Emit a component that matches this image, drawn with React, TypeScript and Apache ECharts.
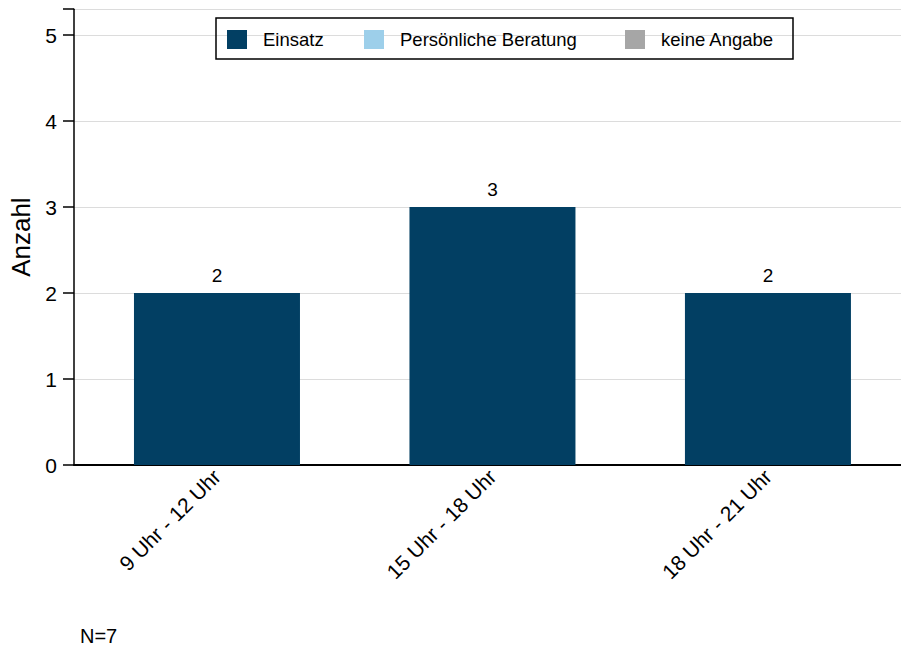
import React, { useEffect, useRef } from "react";
import * as echarts from "echarts";

const categories = ["9 Uhr - 12 Uhr", "15 Uhr - 18 Uhr", "18 Uhr - 21 Uhr"];
const einsatz = [2, 3, 2];
const beratung = [0, 0, 0];
const keineAngabe = [0, 0, 0];
const seriesNames = ["Einsatz", "Persönliche Beratung", "keine Angabe"];
const seriesColors = ["#023f63", "#9dcfea", "#a6a6a6"];
const yTicks = [0, 1, 2, 3, 4, 5];
const footnote = "N=7";

const FONT = "Liberation Sans, Arial, sans-serif";

export default function App() {
  const ref = useRef<HTMLDivElement>(null);
  useEffect(() => {
    if (!ref.current) return;
    const chart = echarts.init(ref.current, null, { renderer: "svg" });
    const legendLefts = [227, 364, 625];
    const catIdx = categories.map((_, i) => i);
    const toPairs = (arr: number[]) => arr.map((v, i) => [i, v]);
    const option: any = {
      animation: false,
      backgroundColor: "#ffffff",
      textStyle: { fontFamily: FONT, color: "#000" },
      grid: { left: 74, top: 9.2, right: 0, height: 455.8, containLabel: false },
      legend: seriesNames.map((n, i) => ({
        data: [n],
        left: legendLefts[i],
        top: 30,
        padding: 0,
        itemWidth: 20,
        itemHeight: 19,
        icon: "rect",
        selectedMode: false,
        textStyle: { fontSize: 18.5, color: "#000", fontFamily: FONT, padding: [0, 0, 0, 11] },
      })),
      xAxis: {
        type: "value",
        min: -0.519,
        max: 2.483,
        axisLine: { show: true, onZero: false, lineStyle: { color: "#000", width: 2 } },
        axisTick: { show: false },
        splitLine: { show: false },
        axisLabel: {
          rotate: 45,
          fontSize: 21,
          color: "#000",
          fontFamily: FONT,
          margin: 8,
          customValues: catIdx,
          showMinLabel: true,
          showMaxLabel: true,
          formatter: (v: number) => categories[Math.round(v)] ?? "",
        },
      },
      yAxis: {
        type: "value",
        min: 0,
        max: 5.3,
        interval: 1,
        name: "Anzahl",
        nameLocation: "middle",
        nameGap: 38,
        nameTextStyle: { fontSize: 26, color: "#000", fontFamily: FONT },
        axisLine: { show: true, onZero: false, lineStyle: { color: "#000", width: 1.5 } },
        axisTick: { show: true, length: 11, lineStyle: { color: "#000", width: 1.5 } },
        axisLabel: {
          fontSize: 21,
          color: "#000",
          fontFamily: FONT,
          margin: 17,
          formatter: (v: number) => (yTicks.includes(v) ? String(v) : ""),
        },
        splitLine: { show: true, lineStyle: { color: "#dcdcdc", width: 1 } },
      },
      series: [
        {
          name: seriesNames[0],
          type: "bar",
          stack: "s",
          data: toPairs(einsatz),
          barWidth: 166,
          itemStyle: { color: seriesColors[0] },
          label: {
            show: true,
            position: "top",
            distance: 8,
            fontSize: 19,
            color: "#000",
            fontFamily: FONT,
            formatter: (p: any) => String(p.value[1]),
          },
        },
        {
          name: seriesNames[1],
          type: "bar",
          stack: "s",
          data: toPairs(beratung),
          barWidth: 166,
          itemStyle: { color: seriesColors[1] },
        },
        {
          name: seriesNames[2],
          type: "bar",
          stack: "s",
          data: toPairs(keineAngabe),
          barWidth: 166,
          itemStyle: { color: seriesColors[2] },
        },
      ],
      graphic: [
        {
          type: "rect",
          shape: { x: 216, y: 18, width: 577, height: 41 },
          style: { fill: "none", stroke: "#000", lineWidth: 1.5 },
          z: 10,
        },
        {
          type: "text",
          left: 80,
          top: 626,
          style: { text: footnote, fontSize: 20, fill: "#000", fontFamily: FONT },
        },
      ],
    };
    chart.setOption(option);
    return () => chart.dispose();
  }, []);
  return (
    <div
      ref={ref}
      style={{ position: "fixed", left: 0, top: 0, width: 901, height: 648 }}
    />
  );
}
